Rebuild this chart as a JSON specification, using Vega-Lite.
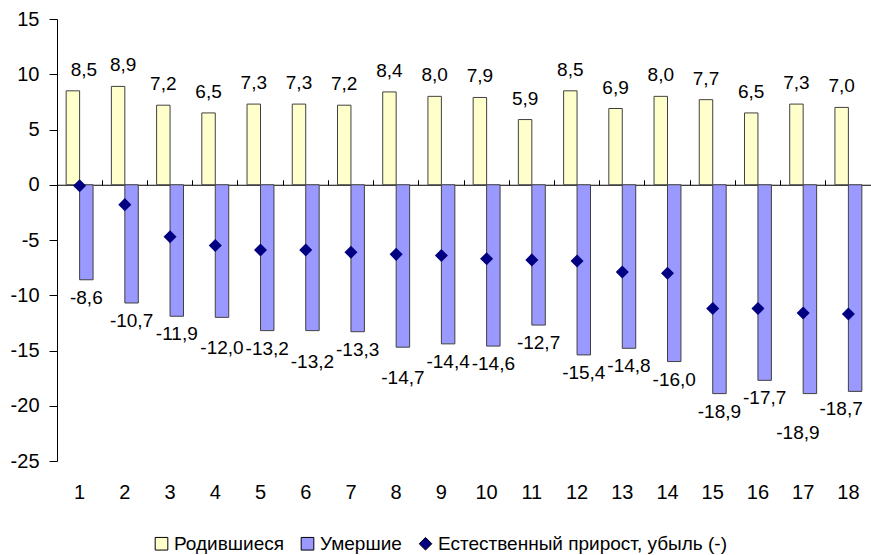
{
  "$schema": "https://vega.github.io/schema/vega-lite/v6.json",
  "width": 814,
  "height": 442,
  "autosize": {"type": "none"},
  "padding": {"left": 57, "top": 19, "right": 0, "bottom": 94},
  "background": "white",
  "config": {
    "locale": {"number": {"decimal": ",", "thousands": " ", "grouping": [3], "currency": ["", ""], "minus": "-"}},
    "view": {"stroke": null},
    "font": "Liberation Sans",
    "axis": {"grid": false, "labelFont": "Liberation Sans", "labelFontSize": 20, "labelColor": "#000", "domainColor": "#000", "tickColor": "#000", "title": null}
  },
  "data": {"values": [
    {"n": 1, "s": "Родившиеся", "v": 8.5}, {"n": 1, "s": "Умершие", "v": -8.6}, {"n": 1, "s": "Естественный прирост, убыль (-)", "v": -0.1},
    {"n": 2, "s": "Родившиеся", "v": 8.9}, {"n": 2, "s": "Умершие", "v": -10.7}, {"n": 2, "s": "Естественный прирост, убыль (-)", "v": -1.8},
    {"n": 3, "s": "Родившиеся", "v": 7.2}, {"n": 3, "s": "Умершие", "v": -11.9}, {"n": 3, "s": "Естественный прирост, убыль (-)", "v": -4.7},
    {"n": 4, "s": "Родившиеся", "v": 6.5}, {"n": 4, "s": "Умершие", "v": -12.0}, {"n": 4, "s": "Естественный прирост, убыль (-)", "v": -5.5},
    {"n": 5, "s": "Родившиеся", "v": 7.3}, {"n": 5, "s": "Умершие", "v": -13.2}, {"n": 5, "s": "Естественный прирост, убыль (-)", "v": -5.9},
    {"n": 6, "s": "Родившиеся", "v": 7.3}, {"n": 6, "s": "Умершие", "v": -13.2}, {"n": 6, "s": "Естественный прирост, убыль (-)", "v": -5.9},
    {"n": 7, "s": "Родившиеся", "v": 7.2}, {"n": 7, "s": "Умершие", "v": -13.3}, {"n": 7, "s": "Естественный прирост, убыль (-)", "v": -6.1},
    {"n": 8, "s": "Родившиеся", "v": 8.4}, {"n": 8, "s": "Умершие", "v": -14.7}, {"n": 8, "s": "Естественный прирост, убыль (-)", "v": -6.3},
    {"n": 9, "s": "Родившиеся", "v": 8.0}, {"n": 9, "s": "Умершие", "v": -14.4}, {"n": 9, "s": "Естественный прирост, убыль (-)", "v": -6.4},
    {"n": 10, "s": "Родившиеся", "v": 7.9}, {"n": 10, "s": "Умершие", "v": -14.6}, {"n": 10, "s": "Естественный прирост, убыль (-)", "v": -6.7},
    {"n": 11, "s": "Родившиеся", "v": 5.9}, {"n": 11, "s": "Умершие", "v": -12.7}, {"n": 11, "s": "Естественный прирост, убыль (-)", "v": -6.8},
    {"n": 12, "s": "Родившиеся", "v": 8.5}, {"n": 12, "s": "Умершие", "v": -15.4}, {"n": 12, "s": "Естественный прирост, убыль (-)", "v": -6.9},
    {"n": 13, "s": "Родившиеся", "v": 6.9}, {"n": 13, "s": "Умершие", "v": -14.8}, {"n": 13, "s": "Естественный прирост, убыль (-)", "v": -7.9},
    {"n": 14, "s": "Родившиеся", "v": 8.0}, {"n": 14, "s": "Умершие", "v": -16.0}, {"n": 14, "s": "Естественный прирост, убыль (-)", "v": -8.0},
    {"n": 15, "s": "Родившиеся", "v": 7.7}, {"n": 15, "s": "Умершие", "v": -18.9}, {"n": 15, "s": "Естественный прирост, убыль (-)", "v": -11.2},
    {"n": 16, "s": "Родившиеся", "v": 6.5}, {"n": 16, "s": "Умершие", "v": -17.7}, {"n": 16, "s": "Естественный прирост, убыль (-)", "v": -11.2},
    {"n": 17, "s": "Родившиеся", "v": 7.3}, {"n": 17, "s": "Умершие", "v": -18.9}, {"n": 17, "s": "Естественный прирост, убыль (-)", "v": -11.6},
    {"n": 18, "s": "Родившиеся", "v": 7.0}, {"n": 18, "s": "Умершие", "v": -18.7}, {"n": 18, "s": "Естественный прирост, убыль (-)", "v": -11.7}
  ]},
  "layer": [
    {
      "transform": [{"filter": "datum.s !== 'Естественный прирост, убыль (-)'"}],
      "mark": {"type": "bar", "stroke": "#404040", "strokeWidth": 1},
      "encoding": {
        "x": {"field": "n", "type": "ordinal", "scale": {"paddingInner": 0, "paddingOuter": 0},
              "axis": {"orient": "bottom", "domain": false, "ticks": false, "tickSize": 0, "labelPadding": 21, "labelAngle": 0, "title": null}},
        "xOffset": {"field": "s", "type": "nominal", "scale": {"domain": ["Родившиеся", "Умершие"], "paddingInner": 0, "paddingOuter": 0.68}},
        "y": {"field": "v", "type": "quantitative", "scale": {"domain": [-25, 15], "nice": false},
              "axis": {"values": [-25, -20, -15, -10, -5, 0, 5, 10, 15], "tickSize": 8, "labelPadding": 10, "domain": true, "title": null}},
        "color": {"field": "s", "type": "nominal",
                  "scale": {"domain": ["Родившиеся", "Умершие", "Естественный прирост, убыль (-)"], "range": ["#FFFFCC", "#9999FF", "#000080"]},
                  "legend": {"orient": "none", "legendX": 95, "legendY": 515, "direction": "horizontal", "title": null,
                             "labelFontSize": 19, "labelFont": "Liberation Sans", "labelColor": "#000", "labelLimit": 0, "symbolSize": 160,
                             "symbolStrokeColor": "#000", "symbolStrokeWidth": 1, "columnPadding": 14, "labelOffset": 3, "padding": 0}}
      }
    },
    {
      "transform": [{"filter": "datum.s === 'Естественный прирост, убыль (-)'"}],
      "mark": {"type": "point", "filled": true, "shape": "diamond", "size": 170, "opacity": 1},
      "encoding": {
        "x": {"field": "n", "type": "ordinal", "scale": {"paddingInner": 0, "paddingOuter": 0},
              "axis": {"orient": "top", "offset": -165.75, "labels": false, "domain": true, "ticks": true, "tickSize": 5, "bandPosition": 0, "title": null}},
        "y": {"field": "v", "type": "quantitative", "scale": {"domain": [-25, 15], "nice": false}},
        "color": {"field": "s", "type": "nominal",
                  "scale": {"domain": ["Родившиеся", "Умершие", "Естественный прирост, убыль (-)"], "range": ["#FFFFCC", "#9999FF", "#000080"]}},
        "shape": {"field": "s", "type": "nominal",
                  "scale": {"domain": ["Родившиеся", "Умершие", "Естественный прирост, убыль (-)"], "range": ["square", "square", "diamond"]}}
      }
    },
    {
      "transform": [{"filter": "datum.s === 'Родившиеся'"}],
      "mark": {"type": "text", "baseline": "alphabetic", "dy": -15, "dx": {"expr": "datum.n == 1 ? 11 : datum.n == 2 ? 5 : 0"}, "fontSize": 19, "font": "Liberation Sans", "color": "#000"},
      "encoding": {
        "x": {"field": "n", "type": "ordinal", "axis": null},
        "xOffset": {"field": "s", "type": "nominal", "scale": {"domain": ["Родившиеся", "Умершие"], "paddingInner": 0, "paddingOuter": 0.68}},
        "y": {"field": "v", "type": "quantitative"},
        "text": {"field": "v", "type": "quantitative", "format": ".1f"}
      }
    },
    {
      "transform": [{"filter": "datum.s === 'Умершие'"}],
      "mark": {"type": "text", "baseline": "top",
               "dy": {"expr": "datum.n == 17 ? 30 : (datum.n == 4 || datum.n == 6 || datum.n == 8) ? 22 : 9"},
               "dx": {"expr": "datum.n == 18 ? -14 : datum.n == 17 ? -12 : 0"}, "fontSize": 19, "font": "Liberation Sans", "color": "#000"},
      "encoding": {
        "x": {"field": "n", "type": "ordinal", "axis": null},
        "xOffset": {"field": "s", "type": "nominal", "scale": {"domain": ["Родившиеся", "Умершие"], "paddingInner": 0, "paddingOuter": 0.68}},
        "y": {"field": "v", "type": "quantitative"},
        "text": {"field": "v", "type": "quantitative", "format": ".1f"}
      }
    }
  ]
}
